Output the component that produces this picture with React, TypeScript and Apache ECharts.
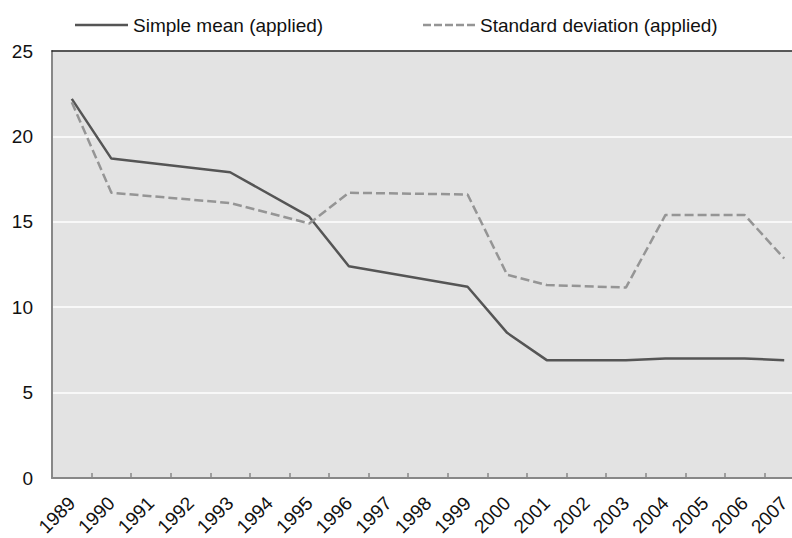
import React, { useEffect, useRef } from "react";
import * as echarts from "echarts";

const years = ["1989","1990","1991","1992","1993","1994","1995","1996","1997","1998","1999","2000","2001","2002","2003","2004","2005","2006","2007"];
const simpleMean = [22.2, 18.7, null, null, 17.9, null, 15.3, 12.4, null, null, 11.2, 8.5, 6.9, null, 6.9, 7.0, null, 7.0, 6.9];
const stdDev = [22.0, 16.7, null, null, 16.1, null, 14.9, 16.7, null, null, 16.6, 11.9, 11.3, null, 11.15, 15.4, null, 15.4, 12.85];
const yTicks = [0, 5, 10, 15, 20, 25];
const seriesNames = ["Simple mean (applied)", "Standard deviation (applied)"];

const FONT = "Liberation Sans, Arial, sans-serif";
const MEAN_COLOR = "#555555";
const SD_COLOR = "#959595";
const DASH = [9, 4];

export default function App() {
  const ref = useRef<HTMLDivElement>(null);
  useEffect(() => {
    const chart = echarts.init(ref.current!, null, { renderer: "svg" });
    chart.setOption({
      animation: false,
      backgroundColor: "#ffffff",
      textStyle: { fontFamily: FONT },
      graphic: [
        {
          type: "line",
          shape: { x1: 75, y1: 25, x2: 128, y2: 25 },
          style: { stroke: MEAN_COLOR, lineWidth: 2.5 },
        },
        {
          type: "text",
          x: 133,
          y: 25,
          style: {
            text: seriesNames[0],
            font: `19px ${FONT}`,
            fill: "#111",
            verticalAlign: "middle",
            align: "left",
          },
        },
        {
          type: "line",
          shape: { x1: 423, y1: 25, x2: 475, y2: 25 },
          style: { stroke: SD_COLOR, lineWidth: 2.5, lineDash: [8, 3] },
        },
        {
          type: "text",
          x: 480,
          y: 25,
          style: {
            text: seriesNames[1],
            font: `19px ${FONT}`,
            fill: "#111",
            verticalAlign: "middle",
            align: "left",
          },
        },
      ],
      grid: {
        left: 52,
        right: -12,
        top: 51,
        bottom: 60,
        show: true,
        backgroundColor: "#e3e3e3",
        borderWidth: 0,
        containLabel: false,
        outerBoundsMode: "none",
      },
      xAxis: [
        {
          type: "category",
          data: years,
          boundaryGap: true,
          axisLine: { lineStyle: { color: "#888888", width: 2 } },
          axisTick: { show: true, inside: true, length: 5, lineStyle: { color: "#888888", width: 1.5 } },
          axisLabel: {
            rotate: 45,
            interval: 0,
            margin: 22,
            fontFamily: FONT,
            fontSize: 19,
            color: "#111",
          },
          splitLine: { show: false },
        },
        {
          type: "category",
          position: "top",
          data: years,
          axisLine: { lineStyle: { color: "#222222", width: 1.5 } },
          axisTick: { show: false },
          axisLabel: { show: false },
        },
      ],
      yAxis: {
        type: "value",
        min: yTicks[0],
        max: yTicks[yTicks.length - 1],
        interval: 5,
        axisLine: { show: true, lineStyle: { color: "#888888", width: 2 } },
        axisTick: { show: false },
        axisLabel: { margin: 19, fontFamily: FONT, fontSize: 19, color: "#111" },
        splitLine: { show: true, lineStyle: { color: "#ffffff", width: 1.5 } },
      },
      series: [
        {
          name: seriesNames[0],
          type: "line",
          data: simpleMean,
          connectNulls: true,
          symbol: "none",
          lineStyle: { color: MEAN_COLOR, width: 2.5 },
          itemStyle: { color: MEAN_COLOR },
        },
        {
          name: seriesNames[1],
          type: "line",
          data: stdDev,
          connectNulls: true,
          symbol: "none",
          lineStyle: { color: SD_COLOR, width: 2.5, type: DASH },
          itemStyle: { color: SD_COLOR },
        },
      ],
    });
    return () => chart.dispose();
  }, []);
  return (
    <div
      ref={ref}
      style={{ position: "absolute", left: 0, top: 0, width: 792, height: 538 }}
    />
  );
}
